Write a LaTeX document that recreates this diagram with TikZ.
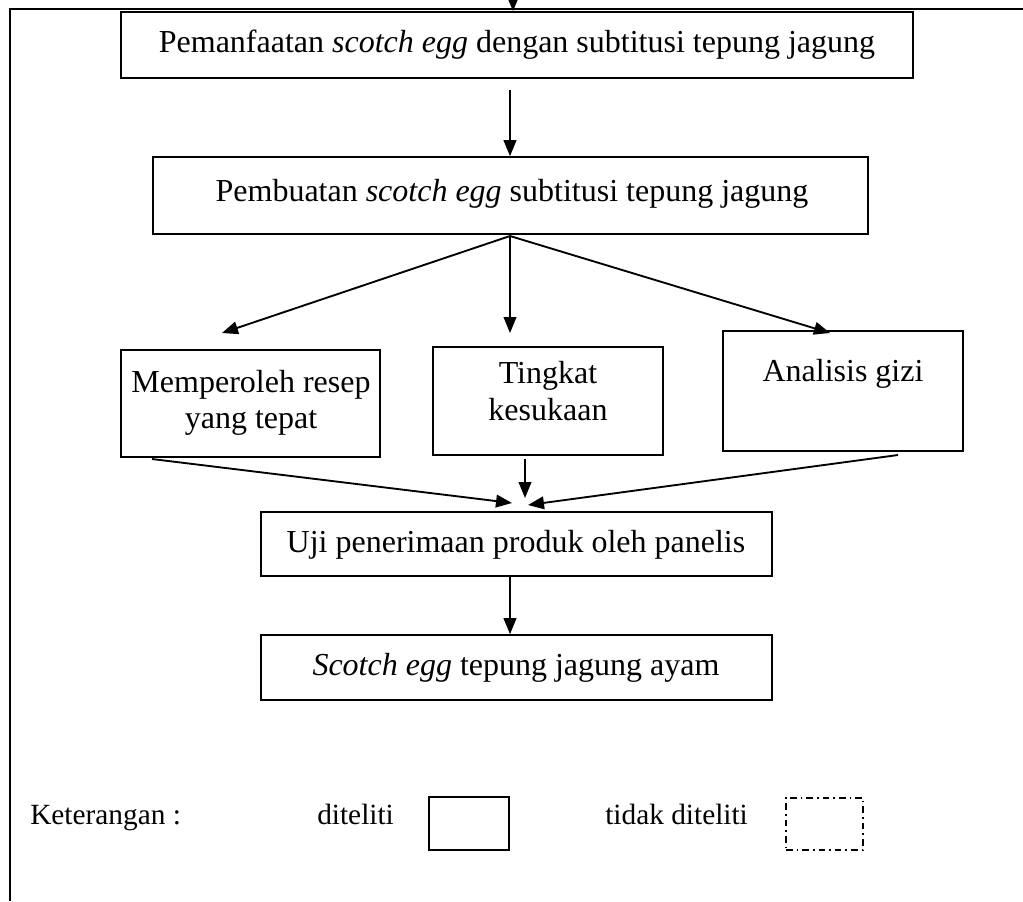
\documentclass[tikz,border=0pt]{standalone}
\usepackage{fontspec}
\setmainfont{Liberation Serif}
\usetikzlibrary{arrows.meta}
\tikzset{
  txt/.style={inner sep=0pt, align=center, font=\fontsize{24}{27.5}\selectfont},
  legtxt/.style={inner sep=0pt, anchor=base west, font=\fontsize{22}{26}\selectfont},
  arr/.style={line width=1.4pt, -{Triangle[length=12pt,width=9.5pt]}},
  frame/.style={line width=1.5pt},
  dashdot/.style={line width=1.2pt, dash pattern=on 5pt off 3pt on 1.2pt off 3pt}
}
\newcommand{\bx}[6][]{\node[draw, line width=1.2pt, inner sep=0pt, #1, minimum width={0.75pt*(#4-#2)}, minimum height={0.75pt*(#6-#3)}] (#2) at ({(#3+#5)/2},{(#4+#6)/2}) {};}
\newcommand{\rbox}[6][]{\node[draw, line width=1.2pt, inner sep=0pt, #1, minimum width={0.75pt*(#5-#3)}, minimum height={0.75pt*(#6-#4)}] (#2) at ({(#3+#5)/2},{(#4+#6)/2}) {};}
\begin{document}
\begin{tikzpicture}[x=0.75pt,y=-0.75pt]
\useasboundingbox (0,0) rectangle (1023,901);
\fill[white] (0,0) rectangle (1023,901);
% frame
\draw[frame] (10,901) -- (10,9) -- (1023,9);
% boxes: name, x1, y1, x2, y2
\rbox{b1}{121}{12}{913}{78}
\rbox{b2}{153}{157}{868}{234}
\rbox{bl}{121}{350}{380}{457}
\rbox{bm}{433}{347}{663}{455}
\rbox{br}{723}{331}{963}{451}
\rbox{b4}{261}{512}{772}{576}
\rbox{b5}{261}{635}{772}{700}
% texts
\node[txt] (t1) at (517,45) {Pemanfaatan \textit{scotch egg} dengan subtitusi tepung jagung};
\node[txt] (t2) at (512,194) {Pembuatan \textit{scotch egg} subtitusi tepung jagung};
\node[txt] (tl) at (251,403) {Memperoleh resep\\yang tepat};
\node[txt] (tm) at (548,391) {Tingkat\\kesukaan};
\node[txt] (tr) at (843,374) {Analisis gizi};
\node[txt] (t4) at (516,545) {Uji penerimaan produk oleh panelis};
\node[txt] (t5) at (516,668) {\textit{Scotch egg} tepung jagung ayam};
% connector coordinates
\coordinate (top) at (513,0);
\coordinate (s12) at (510,90);
\coordinate (s2) at (510,236);
\coordinate (el) at (222,333);
\coordinate (em) at (510,333);
\coordinate (er) at (830,333);
\coordinate (sl) at (152,459);
\coordinate (sm) at (525,459);
\coordinate (sr) at (898,455);
\coordinate (fl) at (512,503);
\coordinate (fm) at (525,498);
\coordinate (fr) at (528,505);
% arrows
\draw[arr] (top) -- (b1.north -| top);
\draw[arr] (s12) -- (b2.north -| s12);
\draw[arr] (s2) -- (el);
\draw[arr] (s2) -- (em);
\draw[arr] (s2) -- (er);
\draw[arr] (sl) -- (fl);
\draw[arr] (sm) -- (fm);
\draw[arr] (sr) -- (fr);
\draw[arr] (b4.south -| s12) -- (b5.north -| s12);
% legend
\node[legtxt] (ket) at (30,824) {Keterangan :};
\node[legtxt] (dit) at (317,824) {diteliti};
\rbox{lg1}{429}{797}{509}{850}
\node[legtxt] (tdit) at (605,824) {tidak diteliti};
\rbox[dashdot]{lg2}{786}{798}{863}{850}
\end{tikzpicture}
\end{document}
